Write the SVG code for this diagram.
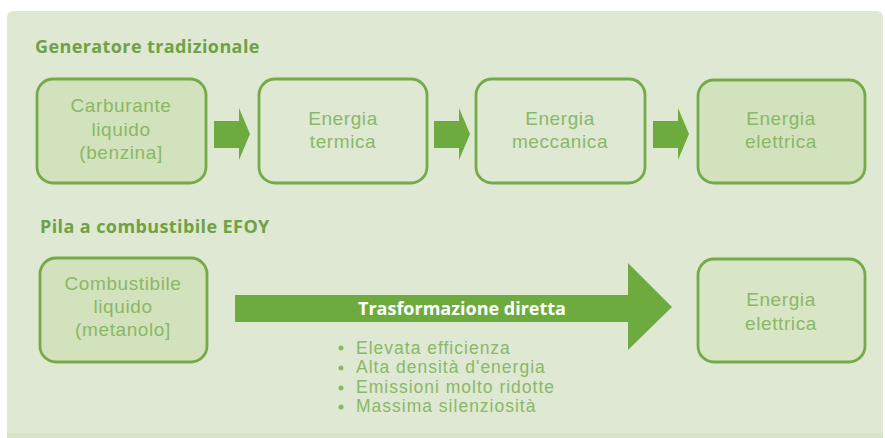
<svg xmlns="http://www.w3.org/2000/svg" width="885" height="438" viewBox="0 0 885 438">
<defs>
<style>
.title{font-family:"Open Sans","Liberation Sans",sans-serif;font-weight:bold;font-size:18px;letter-spacing:0.4px;fill:#6ea243}
.box{fill:none;stroke:#74aa48;stroke-width:2.8}
.box.filled{fill:#d2e2bc}
.lbl{font-family:"Liberation Sans",Arial,sans-serif;font-size:19px;letter-spacing:0.6px;fill:#8ab866;text-anchor:middle}
.arr{fill:#6eab3e}
.bul{font-family:"Liberation Sans",Arial,sans-serif;font-size:17.5px;letter-spacing:1px;fill:#8ab866}
.white{font-family:"Open Sans","Liberation Sans",sans-serif;font-weight:bold;font-size:18px;fill:#ffffff;text-anchor:middle}
</style>
</defs>
<rect width="885" height="438" fill="#ffffff"/>
<rect x="7" y="11" width="876" height="427" rx="6" fill="#dee8d3"/>
<rect x="7" y="433" width="876" height="5" fill="#d8e4c8"/>
<text class="title" x="35" y="53">Generatore tradizionale</text>
<text class="title" x="40" y="233">Pila a combustibile EFOY</text>
<g id="connectors">
<polygon class="arr" points="214,121 239,121 239,108 250,134 239,160 239,148 214,148"/>
<polygon class="arr" points="434,121 459,121 459,108 470,134 459,160 459,148 434,148"/>
<polygon class="arr" points="653,121 678,121 678,108 689,134 678,160 678,148 653,148"/>
<polygon class="arr" points="235,295 628,295 628,263 672,307 628,350 628,322 235,322"/>
<text class="white" x="462" y="315">Trasformazione diretta</text>
</g>
<g id="n1">
<rect class="box filled" x="37" y="79" width="169" height="104" rx="16"/>
<text class="lbl" x="121" y="112">Carburante</text>
<text class="lbl" x="121" y="136">liquido</text>
<text class="lbl" x="121" y="159">(benzina]</text>
</g>
<g id="n2">
<rect class="box" x="259" y="79" width="168" height="104" rx="16"/>
<text class="lbl" x="343" y="125">Energia</text>
<text class="lbl" x="343" y="148">termica</text>
</g>
<g id="n3">
<rect class="box" x="476" y="79" width="169" height="104" rx="16"/>
<text class="lbl" x="560" y="125">Energia</text>
<text class="lbl" x="560" y="148">meccanica</text>
</g>
<g id="n4">
<rect class="box filled" x="698" y="80" width="167" height="103" rx="16"/>
<text class="lbl" x="781" y="125">Energia</text>
<text class="lbl" x="781" y="148">elettrica</text>
</g>
<g id="n5">
<rect class="box filled" x="40" y="258" width="167" height="104" rx="16"/>
<text class="lbl" x="123" y="290">Combustibile</text>
<text class="lbl" x="123" y="313">liquido</text>
<text class="lbl" x="123" y="336">(metanolo]</text>
</g>
<g id="n6">
<rect class="box filled" x="698" y="259" width="167" height="103" rx="16" style="fill:#d8e6c6"/>
<text class="lbl" x="781" y="306">Energia</text>
<text class="lbl" x="781" y="330">elettrica</text>
</g>
<g id="bullets">
<circle cx="341" cy="348" r="2.5" fill="#8ab866"/>
<circle cx="341" cy="368" r="2.5" fill="#8ab866"/>
<circle cx="341" cy="388" r="2.5" fill="#8ab866"/>
<circle cx="341" cy="407" r="2.5" fill="#8ab866"/>
<text class="bul" x="356" y="354">Elevata efficienza</text>
<text class="bul" x="356" y="373">Alta densità d'energia</text>
<text class="bul" x="356" y="393">Emissioni molto ridotte</text>
<text class="bul" x="356" y="412">Massima silenziosità</text>
</g>
</svg>
